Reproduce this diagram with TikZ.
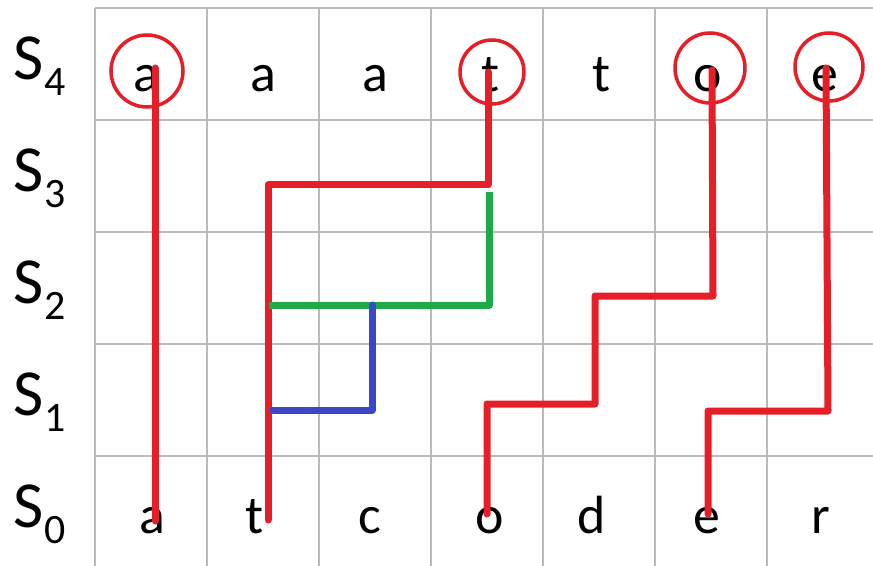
\documentclass[tikz,border=0pt]{standalone}
\usepackage{fontspec}
\setmainfont{Carlito}
\definecolor{pathred}{RGB}{230,30,40}
\definecolor{pathgreen}{RGB}{30,170,70}
\definecolor{pathblue}{RGB}{60,70,200}
\definecolor{gridgray}{RGB}{185,185,185}
\begin{document}
\begin{tikzpicture}[x=1bp,y=-1bp,
  letter/.style={anchor=base,inner sep=0pt,font=\fontsize{54}{60}\selectfont},
  rowlab/.style={anchor=base west,inner sep=0pt},
  ring/.style={draw=pathred,line width=3.5bp,circle,inner sep=0pt},
  link/.style={line width=7bp,line cap=round,line join=round},
]
\useasboundingbox (0,0) rectangle (873,566);
\fill[white] (0,0) rectangle (873,566);
% grid
\foreach \x in {95,207,319,431,543,655,767}
  \draw[gridgray,line width=1.8bp] (\x,8) -- (\x,566);
\foreach \y in {8,120,232,344,456}
  \draw[gridgray,line width=1.8bp] (95,\y) -- (873,\y);
% row labels
\foreach \i/\y in {4/80,3/192,2/303,1/415,0/527}
  \node[rowlab] (S\i) at (13,\y) {\fontsize{66}{70}\selectfont S\kern1bp\raisebox{-16bp}{\fontsize{42}{50}\selectfont \i}};
% top row letters
\node[letter] (t1) at (146,92) {a};
\node[letter] (t2) at (263,92) {a};
\node[letter] (t3) at (375,92) {a};
\node[letter] (t4) at (491,92) {t};
\node[letter] (t5) at (602,92) {t};
\node[letter] (t6) at (708,92) {o};
\node[letter] (t7) at (825,92) {e};
% bottom row letters
\node[letter] (b1) at (152,533) {a};
\node[letter] (b2) at (255,533) {t};
\node[letter] (b3) at (370,533) {c};
\node[letter] (b4) at (490,533) {o};
\node[letter] (b5) at (592,533) {d};
\node[letter] (b6) at (707,533) {e};
\node[letter] (b7) at (821,533) {r};
% circles
\node[ring,minimum size=72bp] (c1) at (147,71) {};
\node[ring,minimum size=64bp] (c4) at (492,72) {};
\node[ring,minimum size=70bp] (c6) at (710,68) {};
\node[ring,minimum size=68bp] (c7) at (829,67) {};
% path coordinates
\coordinate (p1a) at (155,68);
\coordinate (p1b) at (155,521);
\coordinate (p2a) at (268,520);
\coordinate (p2b) at (268,185);
\coordinate (p2c) at (488,185);
\coordinate (p2d) at (488,72);
\coordinate (g1) at (489,192);
\coordinate (g2) at (489,305);
\coordinate (g3) at (269,305);
\coordinate (u1) at (372,305);
\coordinate (u2) at (372,410);
\coordinate (u3) at (273,410);
\coordinate (o1) at (487,514);
\coordinate (o2) at (487,404);
\coordinate (o3) at (595,404);
\coordinate (o4) at (595,296);
\coordinate (o5) at (713,296);
\coordinate (o6) at (712,70);
\coordinate (e1) at (708,514);
\coordinate (e2) at (708,411);
\coordinate (e3) at (828,411);
\coordinate (e4) at (826,68);
% connectors
\draw[link,pathred] (p1a) -- (p1b);
\draw[link,pathred] (p2a) -- (p2b) -- (p2c) -- (p2d);
\draw[link,pathgreen,line cap=butt] (g1) -- (g2) -- (g3);
\draw[link,pathblue] (u1) -- (u2) -- (u3);
\draw[link,pathred] (o1) -- (o2) -- (o3) -- (o4) -- (o5) -- (o6);
\draw[link,pathred] (e1) -- (e2) -- (e3) -- (e4);
\end{tikzpicture}
\end{document}
